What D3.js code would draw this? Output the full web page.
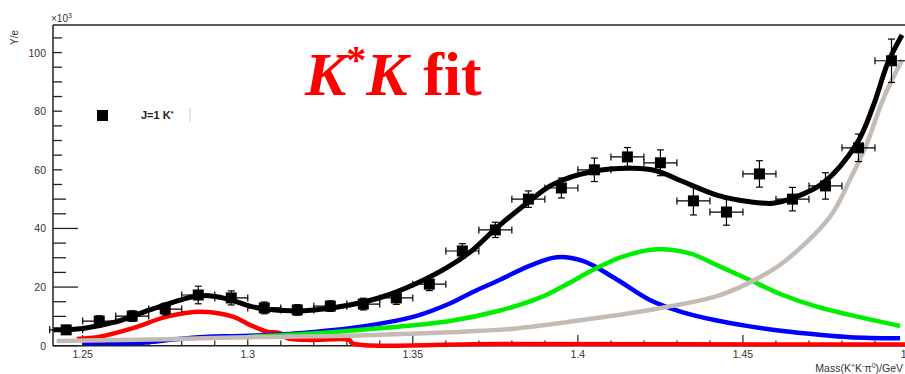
<!DOCTYPE html>
<html>
<head>
<meta charset="utf-8">
<script src="https://cdn.jsdelivr.net/npm/d3@7"></script>
<style>
  body { margin: 0; background: #fff; }
  svg { display: block; }
</style>
</head>
<body>
<svg id="chart" width="905" height="374"></svg>
<script>
// data points (mass bins, yield in 10^3)
let binCenters = [1.245, 1.255, 1.265, 1.275, 1.285, 1.295, 1.305, 1.315, 1.325, 1.335,
  1.345, 1.355, 1.365, 1.375, 1.385, 1.395, 1.405, 1.415, 1.425, 1.435,
  1.445, 1.455, 1.465, 1.475, 1.485, 1.495];
let yields = [5.4, 8.4, 10.1, 12.5, 17.3, 16.3, 12.9, 12.2, 13.5, 14.2,
  16.3, 21, 32.3, 39.5, 50, 53.8, 60, 64.4, 62.4, 49.4,
  45.6, 58.6, 50, 54.5, 67.5, 97.2];
let yieldErr = [1.5, 1.8, 1.8, 2, 3, 2.4, 2, 1.8, 1.8, 2,
  2.2, 2.2, 2.5, 2.6, 2.8, 3.4, 4, 3.2, 4.4, 4.8,
  4.5, 4.5, 4, 4.5, 4.7, 7.4];
let binHalfWidth = 0.005;

// fit curves: [mass, value]
let totalFit = [[1.2412, 5.4], [1.25, 5.9], [1.2603, 8.2], [1.2703, 12.2], [1.2803, 15.8],
  [1.2855, 17.1], [1.2906, 16.7], [1.2955, 15.4], [1.3006, 13.5], [1.3058, 12.4],
  [1.3127, 11.9], [1.3209, 12.3], [1.3309, 13.9], [1.3409, 16.7], [1.3512, 21.3],
  [1.3603, 26.6], [1.3682, 32.7], [1.3742, 39.0], [1.3845, 48.6], [1.3924, 55.0],
  [1.4045, 59.4], [1.4167, 60.5], [1.4239, 59.6], [1.4318, 56.0], [1.4421, 51.4],
  [1.4521, 49.1], [1.4591, 48.6], [1.4652, 50.4], [1.4742, 55.4], [1.4845, 69],
  [1.4894, 81.6], [1.4939, 96.5], [1.4982, 106]];
let redComp = [[1.2482, 2.3], [1.2552, 3.1], [1.2652, 6], [1.2755, 9.9], [1.2855, 11.6],
  [1.2955, 9.9], [1.3006, 7.1], [1.3058, 4.8], [1.3097, 4.3], [1.3120, 2.6],
  [1.3179, 2.0], [1.3309, 1.9], [1.3315, 0.9], [1.3764, 0.6], [1.4991, 0.4]];
let blueComp = [[1.25, 0.8], [1.2555, 1.0], [1.268, 1.0], [1.278, 2.2], [1.287, 3.0],
  [1.2976, 3.3], [1.3127, 4.0], [1.3209, 4.8], [1.3309, 6.0], [1.3409, 7.7],
  [1.3512, 10.2], [1.3612, 14.4], [1.3682, 18.3], [1.3764, 22.5], [1.3855, 27.3],
  [1.3936, 30.2], [1.4015, 28.9], [1.4118, 22.6], [1.4218, 15.6], [1.4318, 11.4],
  [1.4421, 8.6], [1.4521, 6.6], [1.4621, 5], [1.4724, 3.8], [1.4824, 2.9], [1.4976, 2.5]];
let greenComp = [[1.30, 3.0], [1.3233, 4.4], [1.3409, 6.0], [1.3612, 8.4], [1.3764, 12.0],
  [1.3885, 16.4], [1.3967, 21.0], [1.4045, 25.8], [1.4136, 30.4], [1.4239, 32.9],
  [1.4339, 31.5], [1.4421, 27.5], [1.4521, 22.4], [1.4621, 17.3], [1.4724, 13.3],
  [1.4824, 10.5], [1.4976, 6.7]];
let grayComp = [[1.2421, 1.6], [1.2755, 2.2], [1.3006, 2.9], [1.3258, 3.3], [1.3612, 4.6],
  [1.3815, 5.9], [1.4015, 8.8], [1.4218, 12.2], [1.4421, 16.9], [1.4521, 21.6],
  [1.4621, 28.3], [1.4764, 44], [1.4824, 56.6], [1.4876, 69.1], [1.4924, 83.9],
  [1.4982, 97.5]];

let xTickLabels = [1.25, 1.3, 1.35, 1.4, 1.45, 1.5];
let yTickLabels = [0, 20, 40, 60, 80, 100];

let svg = d3.select("#chart");

let x = d3.scaleLinear().domain([1.241, 1.5]).range([53, 908]);
let y = d3.scaleLinear().domain([0, 109.4]).range([345.7, 25]);

// frame top line
svg.append("line")
  .attr("x1", 53).attr("x2", 905)
  .attr("y1", 25).attr("y2", 25)
  .attr("stroke", "#222").attr("stroke-width", 1.3);

// y ticks (inside)
let yMinor = d3.range(0, 109, 5);
svg.append("g").selectAll("line")
  .data(yMinor)
  .enter()
  .append("line")
  .attr("x1", 53)
  .attr("x2", function (d) { return d % 20 == 0 ? 78 : 66; })
  .attr("y1", function (d) { return y(d); })
  .attr("y2", function (d) { return y(d); })
  .attr("stroke", "#222").attr("stroke-width", 1.3);

svg.append("g").selectAll("text")
  .data(yTickLabels)
  .enter()
  .append("text")
  .attr("x", 46)
  .attr("y", function (d) { return y(d) + 4; })
  .attr("text-anchor", "end")
  .style("font", "10.5px 'Liberation Sans', Arial, sans-serif")
  .style("fill", "#333")
  .text(function (d) { return d; });

// x ticks (inside)
let xMinor = d3.range(1.25, 1.5001, 0.01);
svg.append("g").selectAll("line")
  .data(xMinor)
  .enter()
  .append("line")
  .attr("x1", function (d) { return x(d); })
  .attr("x2", function (d) { return x(d); })
  .attr("y1", 345.7)
  .attr("y2", function (d, i) { return i % 5 == 0 ? 335 : 340.5; })
  .attr("stroke", "#222").attr("stroke-width", 1.2);

svg.append("g").selectAll("text")
  .data(xTickLabels)
  .enter()
  .append("text")
  .attr("x", function (d) { return x(d); })
  .attr("y", 357.5)
  .attr("text-anchor", "middle")
  .style("font", "10.5px 'Liberation Sans', Arial, sans-serif")
  .style("fill", "#333")
  .text(function (d) { return d; });

// white legend box hides part of the tick marks
svg.append("rect")
  .attr("x", 62).attr("y", 26)
  .attr("width", 128).attr("height", 165)
  .attr("fill", "#fff");

// axis lines
svg.append("line")
  .attr("x1", 53).attr("x2", 53).attr("y1", 25).attr("y2", 346)
  .attr("stroke", "#222").attr("stroke-width", 1.5);
svg.append("line")
  .attr("x1", 53).attr("x2", 905).attr("y1", 345.7).attr("y2", 345.7)
  .attr("stroke", "#222").attr("stroke-width", 1.5);

// curves
let line = d3.line()
  .x(function (d) { return x(d[0]); })
  .y(function (d) { return y(d[1]); })
  .curve(d3.curveCatmullRom.alpha(0.5));

let comps = [
  { pts: redComp, color: "#ff0000" },
  { pts: blueComp, color: "#0000ff" },
  { pts: greenComp, color: "#00ee00" },
  { pts: grayComp, color: "#c4bcb4" }
];
svg.append("g").selectAll("path")
  .data(comps)
  .enter()
  .append("path")
  .attr("d", function (d) { return line(d.pts); })
  .attr("fill", "none")
  .attr("stroke", function (d) { return d.color; })
  .attr("stroke-width", 4.5);

// error bars
let pts = binCenters.map(function (m, i) {
  return { m: m, v: yields[i], e: yieldErr[i] };
});
let eb = svg.append("g").attr("stroke", "#000").attr("stroke-width", 1.2);
pts.forEach(function (p) {
  let cx = x(p.m), cy = y(p.v);
  let xl = x(p.m - binHalfWidth), xr = x(p.m + binHalfWidth);
  let yt = y(p.v + p.e), yb = y(p.v - p.e);
  eb.append("line").attr("x1", xl).attr("x2", xr).attr("y1", cy).attr("y2", cy);
  eb.append("line").attr("x1", xl).attr("x2", xl).attr("y1", cy - 3.5).attr("y2", cy + 3.5);
  eb.append("line").attr("x1", xr).attr("x2", xr).attr("y1", cy - 3.5).attr("y2", cy + 3.5);
  eb.append("line").attr("x1", cx).attr("x2", cx).attr("y1", yt).attr("y2", yb);
  eb.append("line").attr("x1", cx - 3.5).attr("x2", cx + 3.5).attr("y1", yt).attr("y2", yt);
  eb.append("line").attr("x1", cx - 3.5).attr("x2", cx + 3.5).attr("y1", yb).attr("y2", yb);
});

// total fit on top
svg.append("path")
  .attr("d", line(totalFit))
  .attr("fill", "none")
  .attr("stroke", "#000")
  .attr("stroke-width", 5);

svg.append("g").selectAll("rect")
  .data(pts)
  .enter()
  .append("rect")
  .attr("x", function (d) { return x(d.m) - 5.5; })
  .attr("y", function (d) { return y(d.v) - 5.5; })
  .attr("width", 11).attr("height", 11)
  .attr("fill", "#000");

// legend
svg.append("rect")
  .attr("x", 97).attr("y", 110).attr("width", 11).attr("height", 11)
  .attr("fill", "#000");
let lg = svg.append("text")
  .attr("x", 141).attr("y", 119)
  .style("font", "bold 11px 'Liberation Sans', Arial, sans-serif")
  .style("fill", "#222");
lg.append("tspan").text("J=1 K");
lg.append("tspan").attr("dy", -3).style("font-size", "7px").text("*");
svg.append("line")
  .attr("x1", 190).attr("x2", 190).attr("y1", 108).attr("y2", 122)
  .attr("stroke", "#ccc").attr("stroke-width", 1);

// axis titles
svg.append("text")
  .attr("transform", "translate(18,45) rotate(-90)")
  .style("font", "10px 'Liberation Sans', Arial, sans-serif")
  .style("fill", "#333")
  .text("Y/e");
let mult = svg.append("text")
  .attr("x", 51).attr("y", 22)
  .style("font", "10px 'Liberation Sans', Arial, sans-serif")
  .style("fill", "#333");
mult.append("tspan").text("\u00d710");
mult.append("tspan").attr("dy", -4).style("font-size", "7px").text("3");

let xt = svg.append("text")
  .attr("x", 903).attr("y", 372)
  .attr("text-anchor", "end")
  .style("font", "10.5px 'Liberation Sans', Arial, sans-serif")
  .style("fill", "#333");
xt.append("tspan").text("Mass(K");
xt.append("tspan").attr("dy", -4).style("font-size", "7px").text("+");
xt.append("tspan").attr("dy", 4).text("K");
xt.append("tspan").attr("dy", -4).style("font-size", "7px").text("-");
xt.append("tspan").attr("dy", 4).text("\u03c0");
xt.append("tspan").attr("dy", -4).style("font-size", "7px").text("0");
xt.append("tspan").attr("dy", 4).text(")/GeV");

// title
let title = svg.append("text")
  .attr("x", 305).attr("y", 95)
  .style("font-family", "'Liberation Serif', 'Times New Roman', serif")
  .style("font-weight", "bold")
  .style("font-size", "62px")
  .style("fill", "#ff0000");
title.append("tspan").style("font-style", "italic").text("K");
title.append("tspan").attr("dy", -22).style("font-size", "40px").text("*");
title.append("tspan").attr("dy", 22).style("font-style", "italic").text("K");
title.append("tspan").text(" fit");
</script>
</body>
</html>
